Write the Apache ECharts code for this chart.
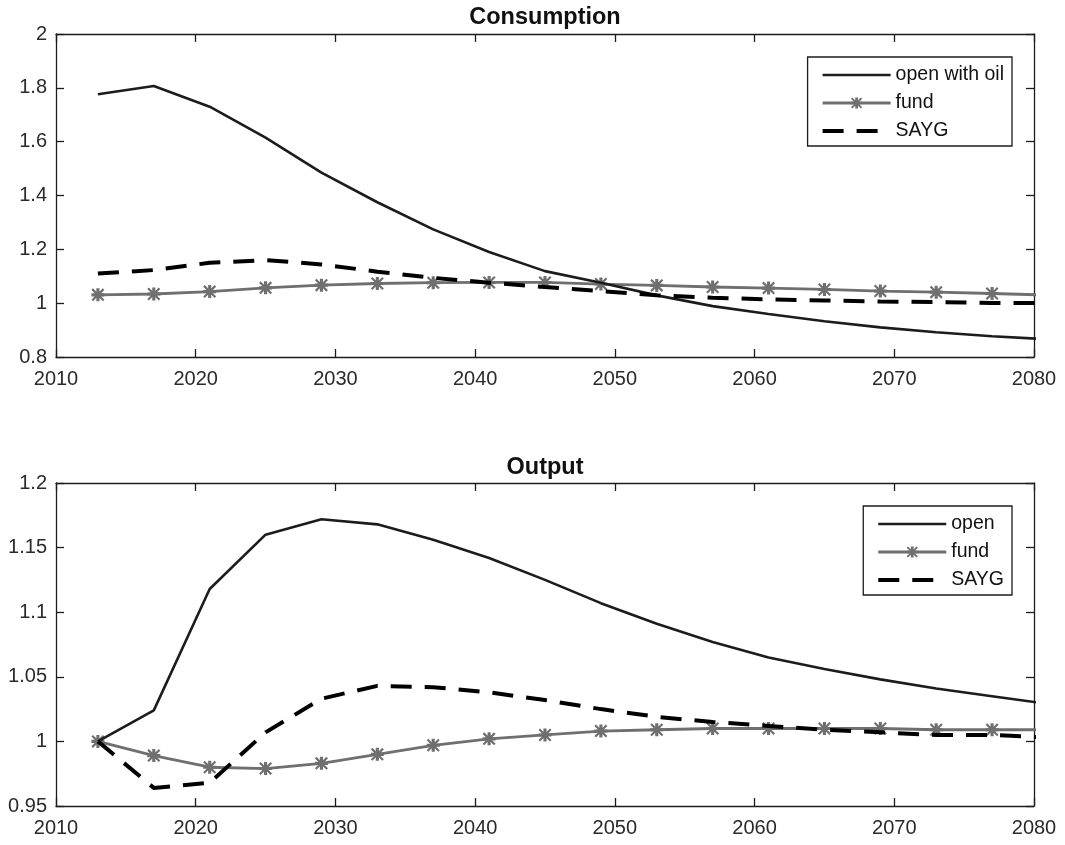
<!DOCTYPE html>
<html>
<head>
<meta charset="utf-8">
<script src="https://cdn.jsdelivr.net/npm/echarts@6/dist/echarts.min.js"></script>
<style>
  html, body { margin: 0; padding: 0; background: #ffffff; }
  #chart { width: 1065px; height: 845px; }
</style>
</head>
<body>
<div id="chart"></div>
<script>
// Simulation years (4-year steps); the last step runs just past the axis end
const years = [2013, 2017, 2021, 2025, 2029, 2033, 2037, 2041, 2045, 2049, 2053, 2057, 2061, 2065, 2069, 2073, 2077, 2081];

// Consumption panel
const consOpenOil = [1.776, 1.807, 1.730, 1.615, 1.485, 1.375, 1.274, 1.190, 1.119, 1.076, 1.029, 0.989, 0.960, 0.933, 0.910, 0.892, 0.877, 0.866];
const consFund    = [1.031, 1.034, 1.043, 1.057, 1.067, 1.073, 1.076, 1.077, 1.077, 1.071, 1.066, 1.060, 1.056, 1.051, 1.045, 1.041, 1.036, 1.030];
const consSAYG    = [1.110, 1.123, 1.150, 1.160, 1.144, 1.117, 1.094, 1.076, 1.060, 1.045, 1.029, 1.020, 1.014, 1.010, 1.006, 1.004, 1.001, 1.000];

// Output panel
const outOpen = [1.000, 1.024, 1.118, 1.160, 1.172, 1.168, 1.156, 1.142, 1.125, 1.107, 1.091, 1.077, 1.065, 1.056, 1.048, 1.041, 1.035, 1.029];
const outFund = [1.000, 0.989, 0.980, 0.979, 0.983, 0.990, 0.997, 1.002, 1.005, 1.008, 1.009, 1.010, 1.010, 1.010, 1.010, 1.009, 1.009, 1.009];
const outSAYG = [1.000, 0.964, 0.968, 1.007, 1.033, 1.043, 1.042, 1.038, 1.032, 1.025, 1.019, 1.015, 1.012, 1.009, 1.007, 1.005, 1.005, 1.003];

// Panel titles and legend labels
const panelTitles = ['Consumption', 'Output'];
const consNames = ['open with oil', 'fund', 'SAYG'];
const outNames = ['open', 'fund', 'SAYG'];

const FONT = 'Liberation Sans, Arial, Helvetica, sans-serif';
const INK = '#1c1c1c';
const GREY = '#6f6f6f';
const OPEN_W = 2.6, FUND_W = 2.8, SAYG_W = 4, SAYG_DASH = [21, 13];

// asterisk marker built from four bars of the same winding
const STAR = 'path://M3.8 0 H6.2 V10 H3.8 Z M0 3.8 H10 V6.2 H0 Z M1.2 0 L10 8.8 L8.8 10 L0 1.2 Z M8.8 0 L10 1.2 L1.2 10 L0 8.8 Z';

const pairs = arr => years.map((y, i) => [y, arr[i]]);

const grids = [
  { left: 56, top: 34, width: 978, height: 323 },
  { left: 56, top: 483, width: 978, height: 323 }
];

function xAxisPair(gridIndex) {
  const common = {
    type: 'value', gridIndex, min: 2010, max: 2080, interval: 10,
    splitLine: { show: false },
    axisLine: { show: true, onZero: false, lineStyle: { color: INK, width: 1.3 } },
    axisTick: { show: true, inside: true, length: 8, lineStyle: { color: INK, width: 1.3 } }
  };
  return [
    Object.assign({}, common, {
      position: 'bottom',
      axisLabel: { color: '#2a2a2a', fontSize: 20, fontFamily: FONT, margin: 12, formatter: v => String(v) }
    }),
    Object.assign({}, common, { position: 'top', axisLabel: { show: false } })
  ];
}

function yAxisPair(gridIndex, min, max, interval) {
  const common = {
    type: 'value', gridIndex, min, max, interval,
    splitLine: { show: false },
    axisLine: { show: true, onZero: false, lineStyle: { color: INK, width: 1.3 } },
    axisTick: { show: true, inside: true, length: 8, lineStyle: { color: INK, width: 1.3 } }
  };
  return [
    Object.assign({}, common, {
      position: 'left',
      axisLabel: { color: '#2a2a2a', fontSize: 20, fontFamily: FONT, margin: 9 }
    }),
    Object.assign({}, common, { position: 'right', axisLabel: { show: false } })
  ];
}

function openLine(name, data, g) {
  return {
    name, type: 'line', xAxisIndex: g * 2, yAxisIndex: g * 2, data: pairs(data),
    symbol: 'none', clip: true, z: 3,
    lineStyle: { color: INK, width: OPEN_W }, itemStyle: { color: INK }
  };
}
function fundLine(name, data, g) {
  return {
    name, type: 'line', xAxisIndex: g * 2, yAxisIndex: g * 2, data: pairs(data),
    symbol: STAR, symbolSize: 13, showSymbol: true, clip: true, z: 2,
    lineStyle: { color: GREY, width: FUND_W }, itemStyle: { color: GREY }
  };
}
function saygLine(name, data, g) {
  return {
    name, type: 'line', xAxisIndex: g * 2, yAxisIndex: g * 2, data: pairs(data),
    symbol: 'none', clip: true, z: 4,
    lineStyle: { color: '#000000', width: SAYG_W, type: SAYG_DASH }, itemStyle: { color: '#000000' }
  };
}

// legend rows: plain lines hide the centre marker, the fund row keeps its asterisk
function legendBox(names, top) {
  return {
    data: [
      { name: names[0], itemStyle: { opacity: 0 }, lineStyle: { width: OPEN_W, color: INK } },
      { name: names[1], lineStyle: { width: FUND_W, color: GREY } },
      { name: names[2], itemStyle: { opacity: 0 }, lineStyle: { width: SAYG_W, color: '#000000', type: SAYG_DASH } }
    ],
    orient: 'vertical', right: 53, top,
    backgroundColor: '#ffffff', borderColor: INK, borderWidth: 1.3, borderRadius: 0,
    padding: [8, 8, 5, 13], itemWidth: 68, itemHeight: 14, itemGap: 8,
    selectedMode: false,
    textStyle: { color: '#111111', fontSize: 19.5, fontFamily: FONT }
  };
}

const chart = echarts.init(document.getElementById('chart'), null, { renderer: 'canvas' });
chart.setOption({
  animation: false,
  backgroundColor: '#ffffff',
  title: [
    { text: panelTitles[0], left: 540, textAlign: 'center', top: 1,
      textStyle: { fontSize: 23.5, fontWeight: 'bold', color: '#111111', fontFamily: FONT } },
    { text: panelTitles[1], left: 540, textAlign: 'center', top: 451,
      textStyle: { fontSize: 23.5, fontWeight: 'bold', color: '#111111', fontFamily: FONT } }
  ],
  legend: [legendBox(consNames, 57), legendBox(outNames, 506)],
  grid: grids,
  xAxis: [...xAxisPair(0), ...xAxisPair(1)],
  yAxis: [...yAxisPair(0, 0.8, 2, 0.2), ...yAxisPair(1, 0.95, 1.2, 0.05)],
  series: [
    openLine(consNames[0], consOpenOil, 0),
    fundLine(consNames[1], consFund, 0),
    saygLine(consNames[2], consSAYG, 0),
    openLine(outNames[0], outOpen, 1),
    fundLine(outNames[1], outFund, 1),
    saygLine(outNames[2], outSAYG, 1)
  ]
});
</script>
</body>
</html>
